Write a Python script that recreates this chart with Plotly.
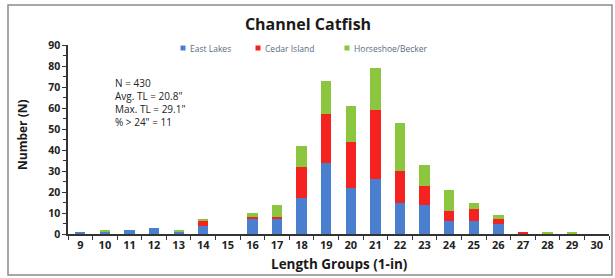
import plotly.graph_objects as go

categories = [str(v) for v in range(9, 31)]
east_lakes = [1, 1, 2, 3, 1, 4, 0, 7, 7, 17, 34, 22, 26, 15, 14, 6, 6, 5, 0, 0, 0, 0]
cedar_island = [0, 0, 0, 0, 0, 2, 0, 1, 1, 15, 23, 22, 33, 15, 9, 5, 6, 2, 1, 0, 0, 0]
horseshoe_becker = [0, 1, 0, 0, 1, 1, 0, 2, 6, 10, 16, 17, 20, 23, 10, 10, 3, 2, 0, 1, 1, 0]
series_names = ["East Lakes", "Cedar Island", "Horseshoe/Becker"]
series_colors = ["#4a7fcf", "#f4231f", "#8cc63f"]
y_ticks = list(range(0, 100, 10))
stats_lines = ["N = 430", "Avg. TL = 20.8\"", "Max. TL = 29.1\"", "% > 24\" = 11"]

W, H = 615, 278
L, R, T, B = 68, 6, 45, 44
pw, ph = W - L - R, H - T - B

def px(x):
    return (x - L) / pw

def py(y):
    return (H - B - y) / ph

FONT = "Open Sans"
fig = go.Figure()
for name, vals, col in zip(series_names, [east_lakes, cedar_island, horseshoe_becker], series_colors):
    fig.add_trace(go.Bar(x=categories, y=vals, name=name, showlegend=False,
                         marker=dict(color=col, line=dict(width=0))))

fig.update_layout(
    width=W, height=H,
    margin=dict(l=L, r=R, t=T, b=B),
    barmode="stack", bargap=0.58,
    paper_bgcolor="white", plot_bgcolor="white",
    font=dict(family=FONT, color="#222"),
    title=dict(text="<b>Channel Catfish</b>", x=px(308), xanchor="center", xref="paper",
               y=1 - 24 / H, yanchor="middle", yref="container",
               font=dict(size=16, family=FONT, color="#1a1a1a")),
    showlegend=False,
)
fig.update_xaxes(type="category", range=[-0.5, 21.5], showline=True, linecolor="#333", linewidth=1.5,
                 ticks="outside", tickson="boundaries", ticklen=4, tickcolor="#333",
                 tickfont=dict(size=11, family=FONT, color="#222", weight="bold"), showgrid=False)
fig.update_yaxes(range=[0, 90], tickvals=y_ticks, showline=True, linecolor="#333", linewidth=1.5,
                 ticks="outside", ticklen=4, tickcolor="#333", showgrid=False, zeroline=False,
                 minor=dict(dtick=5, ticks="outside", ticklen=3, tickcolor="#333"),
                 tickfont=dict(size=10.5, family=FONT, color="#222", weight="bold"))

# legend built from small squares + labels
legend_marker_x = [183, 258, 347]
for name, col, mx in zip(series_names, series_colors, legend_marker_x):
    fig.add_shape(type="rect", xref="paper", yref="paper", x0=px(mx - 2.5), x1=px(mx + 2.5),
                  y0=py(50.5), y1=py(45.5), fillcolor=col, line=dict(width=0), layer="above")
    fig.add_annotation(text=name, x=px(mx + 5), xref="paper", y=py(48), yref="paper",
                       xanchor="left", yanchor="middle", showarrow=False,
                       font=dict(size=8.5, family=FONT, color="#5b6b7f"))

fig.add_annotation(text="<b>Length Groups (1-in)</b>", x=px(339), xref="paper", y=py(264), yref="paper",
                   xanchor="center", yanchor="middle", showarrow=False,
                   font=dict(size=13.5, family=FONT, color="#1a1a1a"))
fig.add_annotation(text="<b>Number (N)</b>", x=px(22), xref="paper", y=py(135), yref="paper",
                   textangle=-90, xanchor="center", yanchor="middle", showarrow=False,
                   font=dict(size=12, family=FONT, color="#1a1a1a"))
for i, line in enumerate(stats_lines):
    fig.add_annotation(text=line, x=px(113), xref="paper", y=py(83 + 13 * i), yref="paper",
                       xanchor="left", yanchor="middle", showarrow=False,
                       font=dict(size=10, family=FONT, color="#222"))
fig.add_shape(type="rect", xref="paper", yref="paper", x0=px(8), x1=px(612), y0=py(275), y1=py(5),
              line=dict(color="#8a8a8a", width=1.5), layer="above")

fig.write_html("out.html", config={"displayModeBar": False},
               post_script="document.body.style.margin='0';document.body.style.overflow='hidden';")
